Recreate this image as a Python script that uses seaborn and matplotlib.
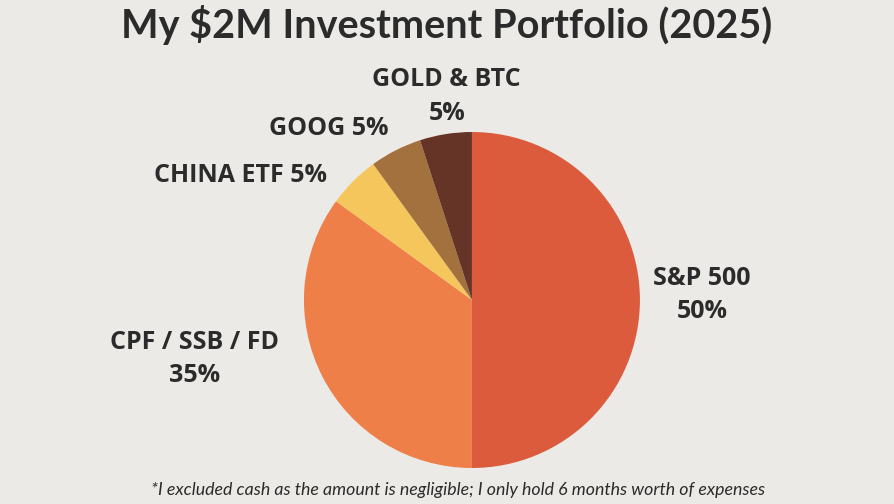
import matplotlib
matplotlib.use("Agg")
from matplotlib import pyplot as plt
import seaborn as sns

# Portfolio allocation (percent)
categories = ["S&P 500", "CPF / SSB / FD", "CHINA ETF", "GOOG", "GOLD & BTC"]
shares = [50, 35, 5, 5, 5]
label_texts = ["S&P 500\n50%", "CPF / SSB / FD\n35%", "CHINA ETF 5%", "GOOG 5%", "GOLD & BTC\n5%"]
colors = ["#DB5B3C", "#EF7F48", "#F5C65C", "#A3713D", "#663327"]

BG = "#EBEAE6"
INK = "#2B2B2B"

def main():
    sns.set_theme(style="white")
    plt.rcParams['font.family'] = ['Open Sans', 'DejaVu Sans']

    fig = plt.figure(figsize=(8.94, 5.04), dpi=100)
    fig.patch.set_facecolor(BG)
    ax = fig.add_axes([0.340, 0.0714, 0.3758, 0.6667])
    ax.set_facecolor(BG)

    wedges, _ = ax.pie(shares, colors=colors, startangle=90, counterclock=False,
                       wedgeprops=dict(linewidth=0))
    ax.set_aspect("equal")
    ax.set_xlim(-1, 1)
    ax.set_ylim(-1, 1)
    ax.axis("off")

    # label positions relative to the pie (radius = 1)
    label_pos = [(1.37, 0.03), (-1.65, -0.35), (-1.38, 0.74), (-0.85, 1.02), (-0.15, 1.21)]
    for txt, (x, y) in zip(label_texts, label_pos):
        ax.text(x, y, txt, ha="center", va="center", fontsize=18, fontweight="bold",
                color=INK, linespacing=1.45, clip_on=False)

    fig.text(0.500, 0.950, "My $2M Investment Portfolio (2025)", ha="center", va="center",
             fontsize=28.5, fontweight="bold", color=INK, family=['Lato', 'DejaVu Sans'])
    fig.text(0.512, 0.027, "*I excluded cash as the amount is negligible; I only hold 6 months worth of expenses",
             ha="center", va="center", fontsize=12.8, style="italic", color=INK,
             family=['Lato', 'DejaVu Sans'])

    fig.savefig("out.png", dpi=100, facecolor=BG)

if __name__ == "__main__":
    main()
